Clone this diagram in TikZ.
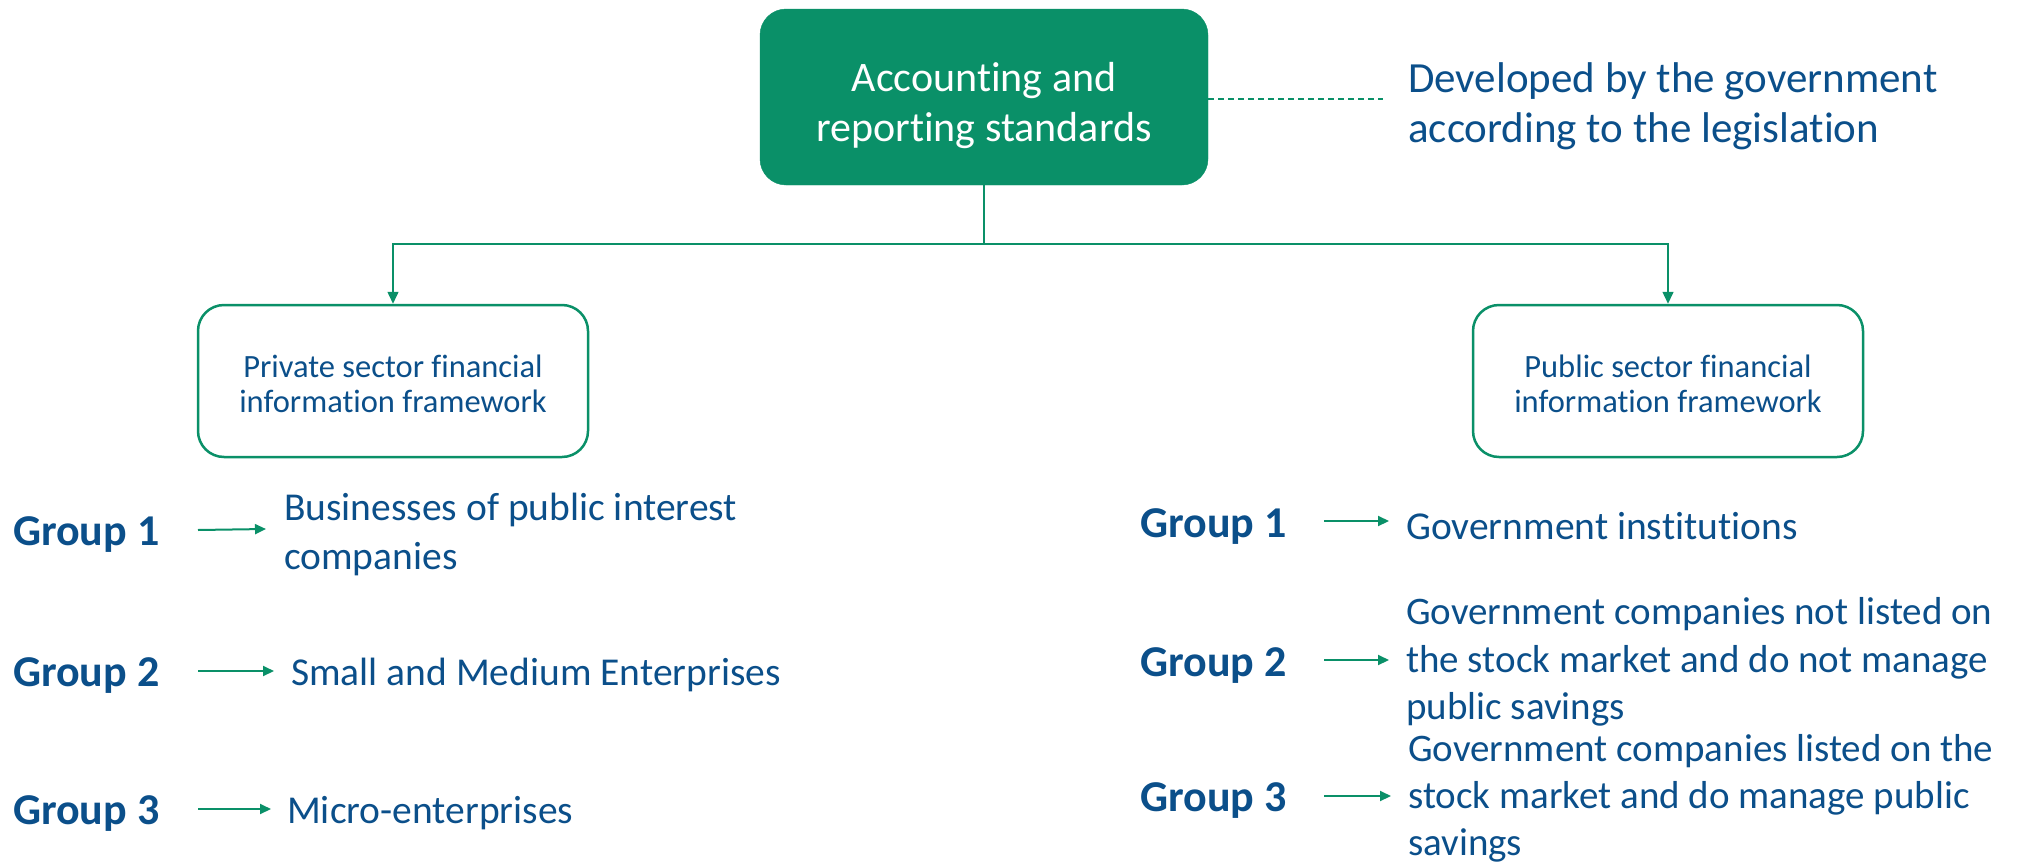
\documentclass[tikz,border=0pt]{standalone}
\usepackage{fontspec}
\setmainfont{Carlito}[Ligatures=NoCommon]
\usetikzlibrary{arrows.meta,calc}
\definecolor{brandgreen}{HTML}{0A9068}
\definecolor{textblue}{HTML}{0B4F8A}
\begin{document}
\begin{tikzpicture}[x=1pt,y=-1pt,
  topbox/.style={draw=brandgreen,fill=brandgreen,rounded corners=26pt,minimum width=448pt,minimum height=176pt,inner sep=0pt},
  toptext/.style={text=white,align=center,font=\fontsize{42}{50}\selectfont,inner sep=0pt},
  fwbox/.style={draw=brandgreen,line width=2.5pt,fill=white,rounded corners=26pt,minimum width=390pt,minimum height=152pt,inner sep=0pt},
  fwtext/.style={text=textblue,align=center,font=\fontsize{32.5}{35.5}\selectfont,inner sep=0pt},
  grp/.style={anchor=west,inner sep=0pt,yshift=-4pt,text=textblue,font=\fontsize{44}{50}\bfseries\selectfont},
  item/.style={anchor=west,inner sep=0pt,yshift=-3pt,text=textblue,align=left,font=\fontsize{39.5}{49}\selectfont},
  note/.style={anchor=west,inner sep=0pt,yshift=-3pt,text=textblue,align=left,font=\fontsize{43}{50}\selectfont},
  conn/.style={draw=brandgreen,line width=1.5pt},
  connarr/.style={conn,-{Triangle[length=12pt,width=11pt]}},
  garr/.style={draw=brandgreen,line width=2pt,-{Triangle[length=11pt,width=10pt]}},
  dashline/.style={draw=brandgreen,line width=1.5pt,dash pattern=on 6pt off 4pt}
]
\useasboundingbox (0,0) rectangle (2026,862);

% top
\node[topbox] (top) at (984,97) {};
\node[toptext] (toplbl) at (984,106) {Accounting and\\reporting standards};
\node[note] (dev) at (1408,103) {Developed by the government\\according to the legislation};
\coordinate (dashend) at (1383,99);
\draw[dashline] (top.east |- dashend) -- (dashend);

% frameworks
\node[fwbox] (priv) at (393,381) {};
\node[fwtext] (privlbl) at (393,384) {Private sector financial\\information framework};
\node[fwbox] (pub) at (1668,381) {};
\node[fwtext] (publbl) at (1668,384) {Public sector financial\\information framework};

\coordinate (split) at (984,244);
\draw[conn] (top.south) -- (split);
\draw[connarr] (split) -| (priv.north);
\draw[connarr] (split) -| (pub.north);

% left groups
\node[grp] (lg1) at (13,531) {Group 1};
\node[item] (lt1) at (284,531) {Businesses of public interest\\companies};
\coordinate (la1s) at (198,530); \coordinate (la1e) at (266,529);
\draw[garr] (la1s) -- (la1e);

\node[grp] (lg2) at (13,672) {Group 2};
\node[item] (lt2) at (291,672) {Small and Medium Enterprises};
\coordinate (la2s) at (198,671); \coordinate (la2e) at (274,671);
\draw[garr] (la2s) -- (la2e);

\node[grp] (lg3) at (13,810) {Group 3};
\node[item] (lt3) at (287,810) {Micro-enterprises};
\coordinate (la3s) at (198,809); \coordinate (la3e) at (271,809);
\draw[garr] (la3s) -- (la3e);

% right groups
\node[grp] (rg1) at (1140,523) {Group 1};
\node[item] (rt1) at (1406,523) {Government institutions};
\coordinate (ra1s) at (1324,521); \coordinate (ra1e) at (1389,521);
\draw[garr] (ra1s) -- (ra1e);

\node[grp] (rg2) at (1140,662) {Group 2};
\node[item,font=\fontsize{39}{47.5}\selectfont] (rt2) at (1406,659) {Government companies not listed on\\the stock market and do not manage\\public savings};
\coordinate (ra2s) at (1324,660); \coordinate (ra2e) at (1389,660);
\draw[garr] (ra2s) -- (ra2e);

\node[grp] (rg3) at (1140,797) {Group 3};
\node[item,font=\fontsize{39}{47}\selectfont] (rt3) at (1408,795) {Government companies listed on the\\stock market and do manage public\\savings};
\coordinate (ra3s) at (1324,796); \coordinate (ra3e) at (1391,796);
\draw[garr] (ra3s) -- (ra3e);
\end{tikzpicture}
\end{document}
